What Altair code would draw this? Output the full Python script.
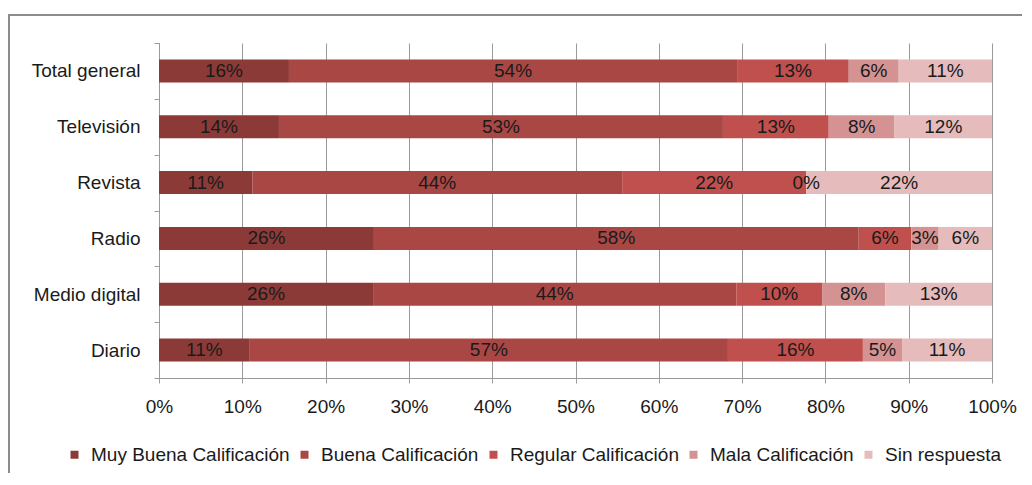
import altair as alt
import pandas as pd

categories = ["Total general", "Televisión", "Revista", "Radio", "Medio digital", "Diario"]
series = ["Muy Buena Calificación", "Buena Calificación", "Regular Calificación",
          "Mala Calificación", "Sin respuesta"]
muy_buena = [15.6, 14.4, 11.2, 25.8, 25.7, 10.9]
buena = [53.8, 53.3, 44.4, 58.2, 43.6, 57.4]
regular = [13.4, 12.7, 22.1, 6.3, 10.3, 16.2]
mala = [6.0, 7.9, 0.0, 3.3, 7.6, 4.7]
sin_resp = [11.2, 11.7, 22.3, 6.4, 12.8, 10.8]
colors = ["#8C3A38", "#A94745", "#C0504D", "#D49392", "#E5BCBB"]
x_ticks = [0, 0.1, 0.2, 0.3, 0.4, 0.5, 0.6, 0.7, 0.8, 0.9, 1.0]

rows = []
for s_i, (name, vals) in enumerate(zip(series, [muy_buena, buena, regular, mala, sin_resp])):
    for c, v in zip(categories, vals):
        rows.append({"cat": c, "serie": name, "ord": s_i, "val": v / 100.0})
df = pd.DataFrame(rows)

FONT = "Liberation Sans"
FS = 19

base = alt.Chart(df).transform_stack(
    stack="val", groupby=["cat"], as_=["x0", "x1"], sort=[alt.SortField("ord")]
).transform_calculate(mid="(datum.x0 + datum.x1) / 2")

y_enc = alt.Y("cat:N", sort=categories, title=None,
              scale=alt.Scale(paddingInner=0, paddingOuter=0),
              axis=alt.Axis(tickBand="extent", grid=False, domain=True, domainColor="#9a9a9a",
                            tickColor="#9a9a9a", tickSize=5, labelPadding=14,
                            labelFontSize=FS, labelFont=FONT, labelColor="#1a1a1a"))

bars = base.mark_bar(size=23).encode(
    x=alt.X("x0:Q", scale=alt.Scale(domain=[0, 1], nice=False), title=None,
            axis=alt.Axis(values=x_ticks, format=".0%", grid=True, gridColor="#9a9a9a",
                          domainColor="#9a9a9a", tickColor="#9a9a9a", tickSize=5,
                          labelFlush=False, labelPadding=14, labelFontSize=FS,
                          labelFont=FONT, labelColor="#1a1a1a")),
    x2="x1:Q",
    y=y_enc,
    color=alt.Color("serie:N", sort=series,
                    scale=alt.Scale(domain=series, range=colors),
                    legend=alt.Legend(title=None, orient="none", direction="horizontal",
                                      legendX=-94, legendY=402, symbolType="square",
                                      symbolSize=64, symbolStrokeWidth=0, labelLimit=0,
                                      labelFontSize=FS, labelFont=FONT, labelColor="#1a1a1a",
                                      labelOffset=7, columnPadding=5)),
)

labels = base.mark_text(fontSize=FS, font=FONT, color="#1a1a1a", baseline="middle").encode(
    x=alt.X("mid:Q"),
    y=alt.Y("cat:N", sort=categories),
    text=alt.Text("val:Q", format=".0%"),
)

frame = alt.Chart(alt.Data(values=[{}])).mark_rect(
    fill="transparent", stroke="#8c8c8c", strokeWidth=2
).encode(x=alt.value(-150), x2=alt.value(3000), y=alt.value(-28), y2=alt.value(3000))

chart = alt.layer(frame, bars, labels).properties(
    width=833, height=335,
    autosize=alt.AutoSizeParams(type="none"),
    padding={"left": 151, "top": 35, "right": 30, "bottom": 95},
).configure_view(stroke=None)

chart.save("out.html", embed_options={"renderer": "svg", "actions": False})
